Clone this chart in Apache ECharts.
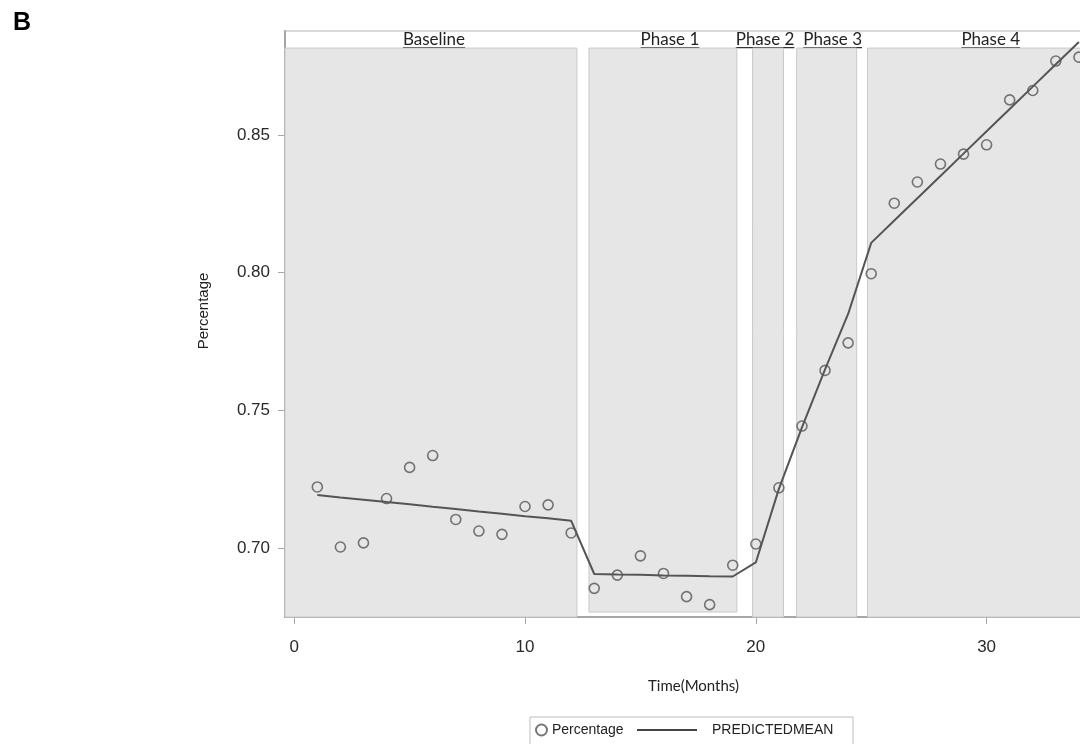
<!DOCTYPE html>
<html>
<head>
<meta charset="utf-8">
<title>Percentage by phase</title>
<script src="https://cdn.jsdelivr.net/npm/echarts@6/dist/echarts.min.js"></script>
<style>
  html, body { margin: 0; padding: 0; background: #fff; }
  #chart { width: 1080px; height: 744px; }
</style>
</head>
<body>
<div id="chart"></div>
<script>
// ---- data ----
var months = [1, 2, 3, 4, 5, 6, 7, 8, 9, 10, 11, 12, 13, 14, 15, 16, 17,
              18, 19, 20, 21, 22, 23, 24, 25, 26, 27, 28, 29, 30, 31, 32, 33, 34];
var percentage = [0.7222, 0.7004, 0.7019, 0.7180, 0.7293, 0.7336, 0.7104, 0.7062, 0.7050,
                  0.7151, 0.7157, 0.7055, 0.6854, 0.6902, 0.6972, 0.6908, 0.6824, 0.6795,
                  0.6938, 0.7015, 0.7219, 0.7443, 0.7645, 0.7745, 0.7996, 0.8252, 0.8329,
                  0.8394, 0.8430, 0.8464, 0.8627, 0.8661, 0.8768, 0.8782];
var predictedMean = [0.7193, 0.7184, 0.7176, 0.7167, 0.7159, 0.7150, 0.7142, 0.7133, 0.7125,
                     0.7116, 0.7108, 0.7099, 0.6906, 0.6904, 0.6903, 0.6901, 0.6900, 0.6898,
                     0.6897, 0.6948, 0.7215, 0.7438, 0.7649, 0.7850, 0.8108, 0.8189, 0.8270,
                     0.8351, 0.8432, 0.8513, 0.8594, 0.8675, 0.8756, 0.8837];
var phaseNames = ['Baseline', 'Phase 1', 'Phase 2', 'Phase 3', 'Phase 4'];
var phaseStart = [-0.4, 12.77, 19.86, 21.77, 24.84];
var phaseEnd   = [12.25, 19.18, 21.2, 24.37, 35];
var phaseBottom = [0.675, 0.6768, 0.675, 0.675, 0.675];
var phaseTop = 0.8815;
var xTicks = [0, 10, 20, 30];
var yTicks = [0.70, 0.75, 0.80, 0.85];

var myChart = echarts.init(document.getElementById('chart'));

var scatterData = months.map(function (m, i) { return [m, percentage[i]]; });
var lineData = months.map(function (m, i) { return [m, predictedMean[i]]; });
var bands = phaseNames.map(function (n, i) {
    return [{ xAxis: phaseStart[i], yAxis: phaseBottom[i] }, { xAxis: phaseEnd[i], yAxis: phaseTop }];
});

var axisGrey = '#a6a6a6';
var textFont = 'Liberation Sans, Arial, sans-serif';

var option = {
    backgroundColor: '#fff',
    animation: false,
    grid: {
        // plot runs past the right edge of the picture, like the cropped original
        left: 285, top: 31, width: 817, bottom: 127,
        outerBoundsMode: 'none',
        show: true, borderColor: '#b5b5b5', borderWidth: 1, backgroundColor: 'transparent'
    },
    legend: [
        {
            data: ['Percentage'], left: 535, top: 723,
            itemWidth: 11, itemHeight: 11, padding: 0,
            textStyle: { fontFamily: textFont, fontSize: 14, color: '#222' }
        },
        {
            data: [{ name: 'PREDICTEDMEAN', icon: 'rect' }], left: 637, top: 723,
            itemWidth: 60, itemHeight: 2, padding: 0,
            itemStyle: { color: '#444' },
            textStyle: { fontFamily: textFont, fontSize: 14, color: '#222', padding: [0, 0, 0, 10] }
        }
    ],
    xAxis: {
        type: 'value', min: -0.4, max: 35,
        name: 'Time(Months)', nameLocation: 'middle', nameGap: 62,
        nameTextStyle: { fontFamily: 'Lato, sans-serif', fontSize: 15, color: '#222' },
        axisLine: { show: true, onZero: false, lineStyle: { color: axisGrey, width: 2 } },
        axisTick: { show: true, length: 7, customValues: xTicks, lineStyle: { color: axisGrey } },
        axisLabel: { customValues: xTicks, margin: 22, fontFamily: textFont, fontSize: 17, color: '#2a2a2a' },
        splitLine: { show: false }
    },
    yAxis: {
        type: 'value', min: 0.675, max: 0.8877,
        name: 'Percentage', nameLocation: 'middle', nameGap: 74, nameRotate: 90,
        nameTextStyle: { fontFamily: textFont, fontSize: 15, color: '#222', padding: [0, 0, 0, 26] },
        axisLine: { show: true, onZero: false, lineStyle: { color: axisGrey, width: 2 } },
        axisTick: { show: true, length: 7, customValues: yTicks, lineStyle: { color: axisGrey } },
        axisLabel: {
            customValues: yTicks, margin: 15, fontFamily: textFont, fontSize: 17, color: '#2a2a2a',
            formatter: function (v) { return v.toFixed(2); }
        },
        splitLine: { show: false }
    },
    series: [
        {
            name: 'Percentage',
            type: 'scatter',
            symbol: 'circle',
            symbolSize: 10,
            itemStyle: { color: 'rgba(0,0,0,0)', borderColor: '#555', borderWidth: 1.6 },
            data: scatterData,
            z: 3,
            markArea: {
                silent: true,
                itemStyle: { color: '#e6e6e6', borderColor: '#c9c9c9', borderWidth: 1 },
                label: { show: false },
                data: bands
            }
        },
        {
            name: 'PREDICTEDMEAN',
            type: 'line',
            symbol: 'none',
            lineStyle: { color: '#555', width: 2 },
            itemStyle: { color: '#555' },
            data: lineData,
            z: 4
        }
    ]
};

myChart.setOption(option);

// phase titles, underlined, sat above each band (small nudges as in the original)
var nudge = [3, 7, -3, 6, 6];
var ctx = document.createElement('canvas').getContext('2d');
var labelFont = '17px Lato, sans-serif';
ctx.font = labelFont;
var titles = [];
phaseNames.forEach(function (n, i) {
    var mid = (phaseStart[i] + phaseEnd[i]) / 2;
    var p = myChart.convertToPixel({ gridIndex: 0 }, [mid, phaseTop]);
    var cx = p[0] + nudge[i];
    var w = ctx.measureText(n).width;
    titles.push({
        type: 'text', x: cx, y: p[1] - 9,
        style: { text: n, font: labelFont, fill: '#222', align: 'center', verticalAlign: 'middle' }
    });
    titles.push({
        type: 'line',
        shape: { x1: cx - w / 2, y1: p[1] - 0.5, x2: cx + w / 2, y2: p[1] - 0.5 },
        style: { stroke: '#333', lineWidth: 1.2 }
    });
});

myChart.setOption({
    graphic: titles.concat([
        {
            type: 'text', left: 13, top: 11,
            style: { text: 'B', font: 'bold 25px Liberation Sans, Arial, sans-serif', fill: '#000' }
        },
        {
            type: 'rect', shape: { x: 530, y: 717, width: 323, height: 30 },
            style: { fill: 'none', stroke: '#bdbdbd', lineWidth: 1 }
        }
    ])
});
</script>
</body>
</html>
